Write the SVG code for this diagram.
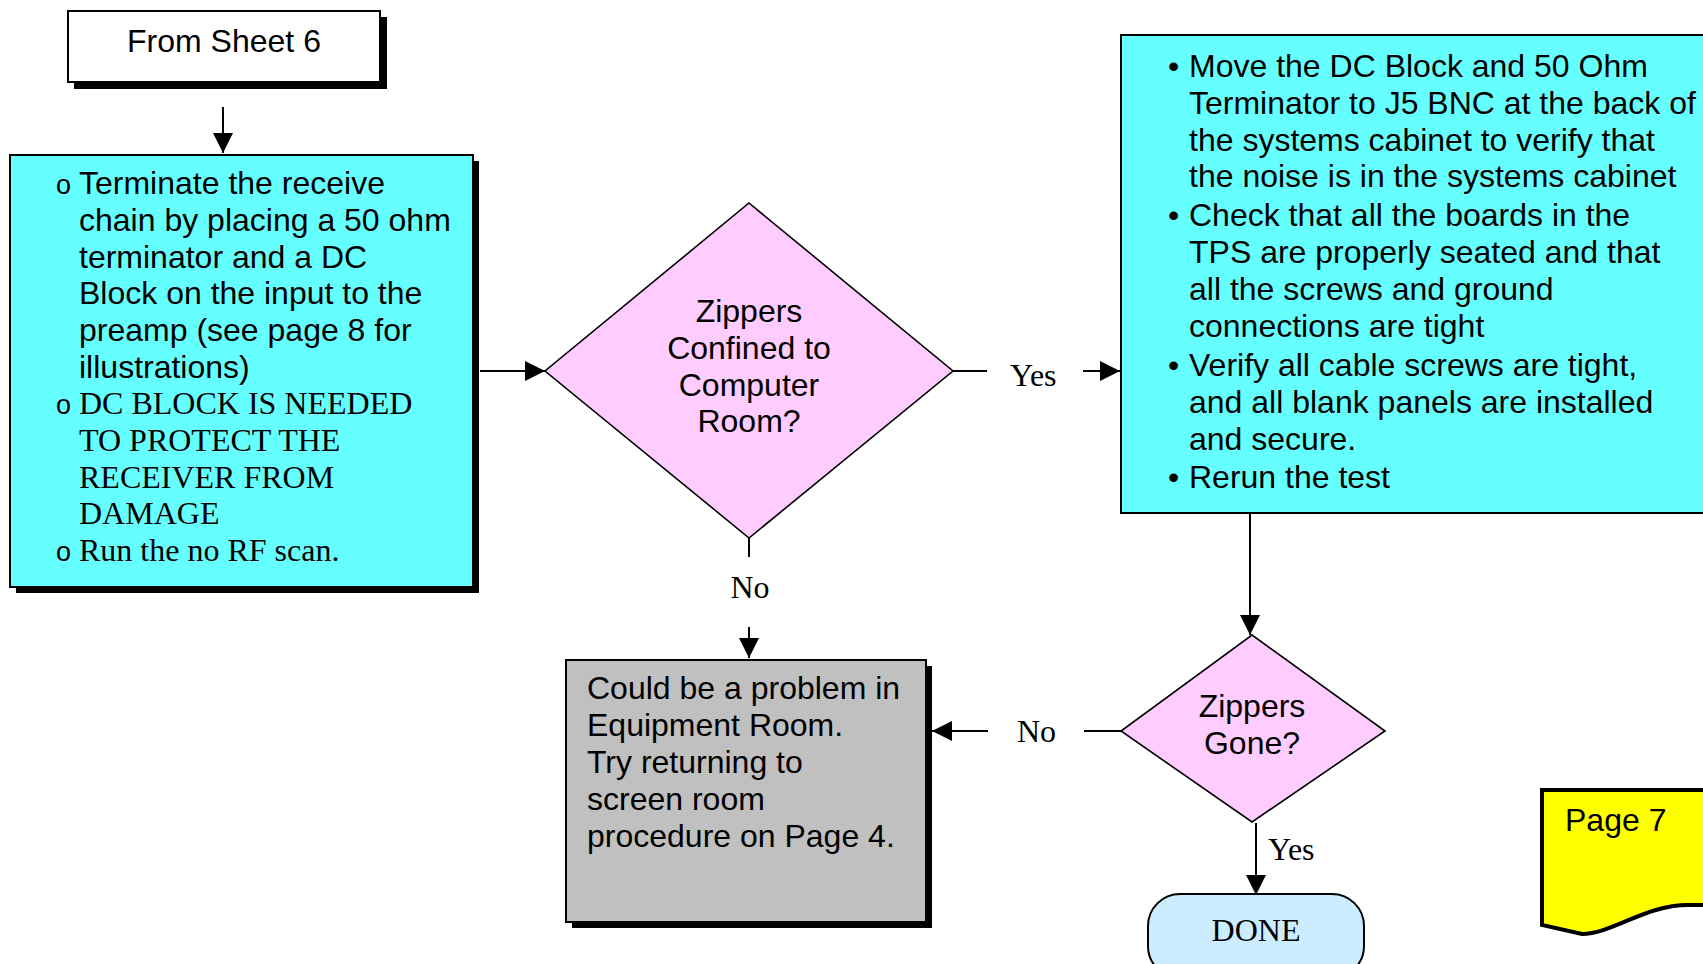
<svg xmlns="http://www.w3.org/2000/svg" width="1703" height="964" viewBox="0 0 1703 964">
<style>
.sans{font-family:"Liberation Sans",Arial,sans-serif;font-size:32px;fill:#000}
.serif{font-family:"Liberation Serif","Times New Roman",serif;font-size:32px;fill:#000}
.bul{font-family:"Liberation Sans",Arial,sans-serif;font-size:27px;fill:#000}
.box{stroke:#000;stroke-width:2}
.shadow{fill:#000}
.dia{fill:#FFCCFF;stroke:#000;stroke-width:1.6}
.conn{stroke:#000;stroke-width:2;fill:none}
.mid{text-anchor:middle}
</style>
<defs>
<marker id="arr" viewBox="0 0 20 20" refX="20" refY="10" markerWidth="20" markerHeight="20" markerUnits="userSpaceOnUse" orient="auto">
<path d="M0,0 L20,10 L0,20 Z" fill="#000"/>
</marker>
</defs>
<rect width="1703" height="964" fill="#fff"/>

<g id="from-sheet-6">
<rect class="shadow" x="74" y="17" width="313" height="72"/>
<rect class="box" x="68" y="11" width="312" height="71" fill="#fff"/>
<text class="sans mid" x="224" y="52">From Sheet 6</text>
</g>

<g id="terminate-box">
<rect class="shadow" x="16" y="161" width="463" height="432"/>
<rect class="box" x="10" y="155" width="463" height="432" fill="#66FFFF"/>
<text class="bul" x="56" y="194">o</text>
<text class="sans" x="79" y="194">Terminate the receive</text>
<text class="sans" x="79" y="231">chain by placing a 50 ohm</text>
<text class="sans" x="79" y="267.5">terminator and a DC</text>
<text class="sans" x="79" y="304">Block on the input to the</text>
<text class="sans" x="79" y="341">preamp (see page 8 for</text>
<text class="sans" x="79" y="377.5">illustrations)</text>
<text class="bul" x="56" y="414">o</text>
<text class="serif" x="79" y="414">DC BLOCK IS NEEDED</text>
<text class="serif" x="79" y="451">TO PROTECT THE</text>
<text class="serif" x="79" y="487.5">RECEIVER FROM</text>
<text class="serif" x="79" y="524">DAMAGE</text>
<text class="bul" x="56" y="561">o</text>
<text class="serif" x="79" y="561">Run the no RF scan.</text>
</g>

<g id="decision-confined">
<polygon class="dia" points="749,203 953,371 749,538 545,371"/>
<text class="sans mid" x="749" y="322">Zippers</text>
<text class="sans mid" x="749" y="359">Confined to</text>
<text class="sans mid" x="749" y="396">Computer</text>
<text class="sans mid" x="749" y="432">Room?</text>
</g>

<g id="actions-box">
<rect class="box" x="1121" y="35" width="600" height="478" fill="#66FFFF"/>
<text class="sans" x="1168" y="77">•</text>
<text class="sans" x="1189" y="77">Move the DC Block and 50 Ohm</text>
<text class="sans" x="1189" y="114">Terminator to J5 BNC at the back of</text>
<text class="sans" x="1189" y="150.5">the systems cabinet to verify that</text>
<text class="sans" x="1189" y="187">the noise is in the systems cabinet</text>
<text class="sans" x="1168" y="226">•</text>
<text class="sans" x="1189" y="226">Check that all the boards in the</text>
<text class="sans" x="1189" y="263">TPS are properly seated and that</text>
<text class="sans" x="1189" y="300">all the screws and ground</text>
<text class="sans" x="1189" y="337">connections are tight</text>
<text class="sans" x="1168" y="376">•</text>
<text class="sans" x="1189" y="376">Verify all cable screws are tight,</text>
<text class="sans" x="1189" y="413">and all blank panels are installed</text>
<text class="sans" x="1189" y="449.5">and secure.</text>
<text class="sans" x="1168" y="488">•</text>
<text class="sans" x="1189" y="488">Rerun the test</text>
</g>

<g id="equipment-room-box">
<rect class="shadow" x="572" y="666" width="360" height="262"/>
<rect class="box" x="566" y="660" width="360" height="262" fill="#C0C0C0"/>
<text class="sans" x="587" y="699">Could be a problem in</text>
<text class="sans" x="587" y="736">Equipment Room.</text>
<text class="sans" x="587" y="773">Try returning to</text>
<text class="sans" x="587" y="810">screen room</text>
<text class="sans" x="587" y="847">procedure on Page 4.</text>
</g>

<g id="decision-gone">
<polygon class="dia" points="1252,635 1385,731 1252,822 1121,731"/>
<text class="sans mid" x="1252" y="717">Zippers</text>
<text class="sans mid" x="1252" y="754">Gone?</text>
</g>

<g id="done">
<rect class="box" x="1148" y="894" width="216" height="84" rx="32" ry="32" fill="#CCECFF"/>
<text class="serif mid" x="1256" y="941">DONE</text>
</g>

<g id="page-7">
<path d="M1542,790 L1712,790 L1712,905 L1688,905 C1645,905 1612,934 1582,934 L1542,925 Z" fill="#FFFF00" stroke="#000" stroke-width="4"/>
<text class="sans" x="1565" y="831">Page 7</text>
</g>

<g id="connectors">
<line class="conn" x1="223" y1="107" x2="223" y2="153" marker-end="url(#arr)"/>
<line class="conn" x1="480" y1="371" x2="545" y2="371" marker-end="url(#arr)"/>
<line class="conn" x1="953" y1="371" x2="987" y2="371"/>
<text class="serif" x="1010" y="386">Yes</text>
<line class="conn" x1="1083" y1="371" x2="1120" y2="371" marker-end="url(#arr)"/>
<line class="conn" x1="749" y1="538" x2="749" y2="557"/>
<text class="serif mid" x="750" y="598">No</text>
<line class="conn" x1="749" y1="627" x2="749" y2="658" marker-end="url(#arr)"/>
<line class="conn" x1="1250" y1="514" x2="1250" y2="635" marker-end="url(#arr)"/>
<line class="conn" x1="1121" y1="731" x2="1084" y2="731"/>
<text class="serif" x="1017" y="742">No</text>
<line class="conn" x1="988" y1="731" x2="932" y2="731" marker-end="url(#arr)"/>
<line class="conn" x1="1256" y1="823" x2="1256" y2="895" marker-end="url(#arr)"/>
<text class="serif" x="1268" y="860">Yes</text>
</g>
</svg>
